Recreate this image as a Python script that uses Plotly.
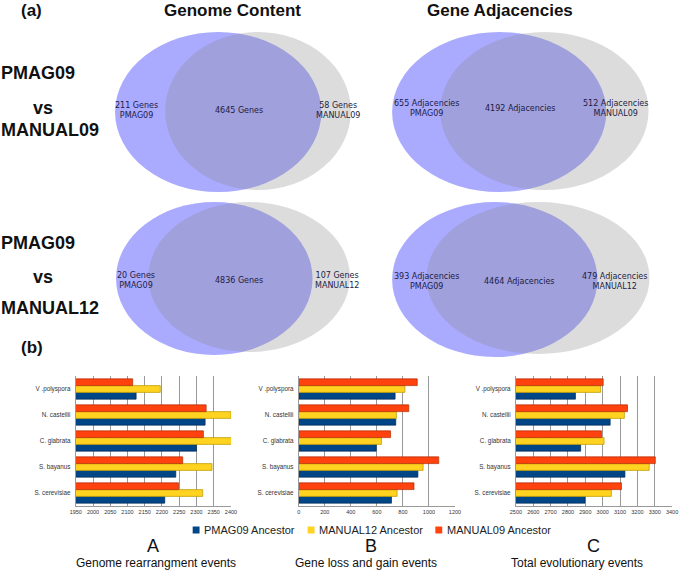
import plotly.graph_objects as go

W, H = 685, 570

# ---------------- data ----------------
species = ["S. cerevisiae", "S. bayanus", "C. glabrata", "N. castellii", "V .polyspora"]
series_names = ["PMAG09 Ancestor", "MANUAL12 Ancestor", "MANUAL09 Ancestor"]
series_colors = ["#004586", "#ffd320", "#ff420e"]
series_edges = ["#002a55", "#b89600", "#b02a00"]

# A: genome rearrangement events
rearr_pmag09 = [2208, 2240, 2300, 2325, 2125]
rearr_manual12 = [2318, 2345, 2402, 2400, 2195]
rearr_manual09 = [2248, 2260, 2320, 2328, 2115]
# B: gene loss and gain events
loss_pmag09 = [712, 915, 595, 745, 740]
loss_manual12 = [755, 955, 635, 750, 815]
loss_manual09 = [885, 1075, 705, 845, 910]
# C: total evolutionary events
total_pmag09 = [2898, 3128, 2873, 3043, 2843]
total_manual12 = [3050, 3268, 3008, 3125, 2988]
total_manual09 = [3108, 3303, 2993, 3143, 3003]

panel_letters = ["A", "B", "C"]
panel_titles = ["Genome rearrangment events", "Gene loss and gain events", "Total evolutionary events"]
panel_ranges = [[1950, 2400], [0, 1200], [2500, 3400]]
panel_dticks = [50, 200, 100]

# Venn diagrams
venn_units = ["Genes", "Adjacencies", "Genes", "Adjacencies"]
venn_other = ["MANUAL09", "MANUAL09", "MANUAL12", "MANUAL12"]
venn_only_pmag = [211, 655, 20, 393]
venn_shared = [4645, 4192, 4836, 4464]
venn_only_other = [58, 512, 107, 479]
column_titles = ["Genome Content", "Gene Adjacencies"]
row_others = ["MANUAL09", "MANUAL12"]


def px(x):
    return x / W


def py(y):
    return 1 - y / H


fig = go.Figure()

# ---------------- bar charts ----------------
bar_sets = [
    [rearr_pmag09, rearr_manual12, rearr_manual09],
    [loss_pmag09, loss_manual12, loss_manual09],
    [total_pmag09, total_manual12, total_manual09],
]
x_domains = [(71, 229), (298, 457), (519, 678)]
y_domain = [py(506), py(376)]

for p, sets in enumerate(bar_sets):
    xa = "x" if p == 0 else f"x{p+1}"
    ya = "y" if p == 0 else f"y{p+1}"
    for s, vals in enumerate(sets):
        fig.add_trace(go.Bar(
            y=species, x=vals, orientation="h", name=series_names[s],
            marker=dict(color=series_colors[s], line=dict(color=series_edges[s], width=0.7)),
            xaxis=xa, yaxis=ya, showlegend=False,
        ))
    sfx = "" if p == 0 else str(p + 1)
    fig.layout["xaxis" + sfx] = dict(
        domain=[px(x_domains[p][0]), px(x_domains[p][1])],
        range=panel_ranges[p], dtick=panel_dticks[p], tick0=panel_ranges[p][0],
        showgrid=True, gridcolor="#999999", gridwidth=1,
        showline=True, linecolor="#999999", linewidth=1,
        zeroline=False, ticks="",
        tickfont=dict(family="Liberation Sans", size=5.5, color="#333333"),
        anchor=ya, fixedrange=True,
    )
    fig.layout["yaxis" + sfx] = dict(
        domain=y_domain, type="category",
        showline=True, linecolor="#999999", linewidth=1,
        ticks="", showgrid=False,
        tickfont=dict(family="Liberation Sans", size=6.3, color="#333333"),
        anchor=xa, fixedrange=True, ticklabelstandoff=3,
    )

fig.update_layout(barmode="group", bargap=0.22, bargroupgap=0)

shapes = []
annotations = []

# ---------------- Venn diagrams ----------------
venn_geom = [
    dict(blue=(111, 321, 32, 192), gray=(162, 351, 32, 190), tx=(133, 237, 338), ty=111),
    dict(blue=(393, 611, 32, 192), gray=(442, 654, 32, 190), tx=(428, 524, 620), ty=108),
    dict(blue=(112, 312, 202, 355), gray=(145, 350, 202, 352), tx=(132, 237, 337), ty=280),
    dict(blue=(393, 602, 202, 357), gray=(428, 655, 202, 354), tx=(428, 523, 619), ty=281),
]
vfont = dict(family="DejaVu Sans", size=8, color="#1c1c44")
for i, g in enumerate(venn_geom):
    bx0, bx1, by0, by1 = g["blue"]
    shapes.append(dict(type="circle", xref="paper", yref="paper",
                       x0=px(bx0), x1=px(bx1), y0=py(by1), y1=py(by0),
                       fillcolor="rgb(170,170,255)", line=dict(width=0), layer="above"))
    gx0, gx1, gy0, gy1 = g["gray"]
    shapes.append(dict(type="circle", xref="paper", yref="paper",
                       x0=px(gx0), x1=px(gx1), y0=py(gy1), y1=py(gy0),
                       fillcolor="rgba(136,136,136,0.294)", line=dict(width=0), layer="above"))
    lx, cx, rx = g["tx"]
    texts = [
        f"{venn_only_pmag[i]} {venn_units[i]}<br>PMAG09",
        f"{venn_shared[i]} {venn_units[i]}",
        f"{venn_only_other[i]} {venn_units[i]}<br>{venn_other[i]}",
    ]
    for t, xx in zip(texts, (lx, cx, rx)):
        annotations.append(dict(x=px(xx), y=py(g["ty"]), xref="paper", yref="paper",
                                text=t, showarrow=False, font=vfont, align="center",
                                xanchor="center", yanchor="middle"))

bold = dict(family="Liberation Sans", size=18, color="#111111")
for j, t in enumerate(column_titles):
    annotations.append(dict(x=px([231, 503][j]), y=py(11), xref="paper", yref="paper",
                            text=f"<b>{t}</b>", showarrow=False,
                            font=dict(family="Liberation Sans", size=17, color="#111111"),
                            xanchor="center", yanchor="middle"))

row_y = [(73, 108, 130), (243, 277, 308)]
for r, other in enumerate(row_others):
    y1, y2, y3 = row_y[r]
    annotations.append(dict(x=px(-7), y=py(y1), xref="paper", yref="paper", text="<b>PMAG09</b>",
                            showarrow=False, font=bold, xanchor="left", yanchor="middle"))
    annotations.append(dict(x=px(38), y=py(y2), xref="paper", yref="paper", text="<b>vs</b>",
                            showarrow=False, font=bold, xanchor="center", yanchor="middle"))
    annotations.append(dict(x=px(-7), y=py(y3), xref="paper", yref="paper", text=f"<b>{other}</b>",
                            showarrow=False, font=bold, xanchor="left", yanchor="middle"))

for lab, yy in (("(a)", 11), ("(b)", 347)):
    annotations.append(dict(x=px(26), y=py(yy), xref="paper", yref="paper", text=f"<b>{lab}</b>",
                            showarrow=False, font=dict(family="Liberation Sans", size=17, color="#111111"),
                            xanchor="center", yanchor="middle"))

# ---------------- manual legend ----------------
leg_x = [190, 307, 437]
for s in range(3):
    shapes.append(dict(type="rect", xref="paper", yref="paper",
                       x0=px(leg_x[s]), x1=px(leg_x[s] + 7), y0=py(533.5), y1=py(526.5),
                       fillcolor=series_colors[s], line=dict(width=0)))
    annotations.append(dict(x=px(leg_x[s] + 10), y=py(530), xref="paper", yref="paper",
                            text=series_names[s], showarrow=False,
                            font=dict(family="Liberation Sans", size=11, color="#222222"),
                            xanchor="left", yanchor="middle"))

letter_x = [150, 371, 598]
title_x = [153, 366, 581]
for p in range(3):
    annotations.append(dict(x=px(letter_x[p]), y=py(546), xref="paper", yref="paper",
                            text=panel_letters[p], showarrow=False,
                            font=dict(family="Liberation Sans", size=18, color="#111111"),
                            xanchor="center", yanchor="middle"))
    annotations.append(dict(x=px(title_x[p]), y=py(563), xref="paper", yref="paper",
                            text=panel_titles[p], showarrow=False,
                            font=dict(family="Liberation Sans", size=12, color="#111111"),
                            xanchor="center", yanchor="middle"))

fig.update_layout(
    width=W, height=H, margin=dict(l=0, r=0, t=0, b=0),
    paper_bgcolor="white", plot_bgcolor="white",
    shapes=shapes, annotations=annotations, showlegend=False,
)

fig.write_html(
    "out.html",
    config={"displayModeBar": False, "staticPlot": True},
    post_script="document.body.style.margin='0';document.body.style.overflow='hidden';",
)
